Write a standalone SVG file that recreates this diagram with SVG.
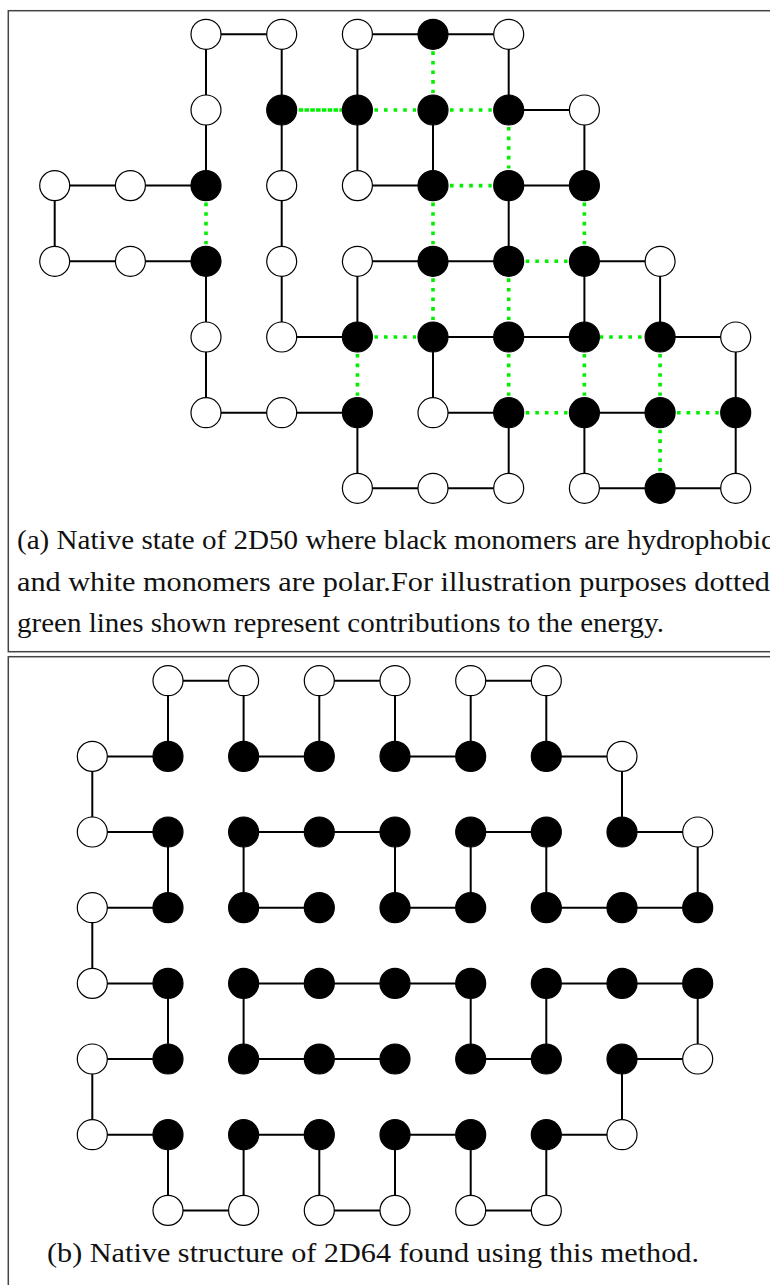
<svg xmlns="http://www.w3.org/2000/svg" width="770" height="1285" viewBox="0 0 770 1285">
<style>
.frame{fill:none;stroke:#444;stroke-width:1.5}
.bond{stroke:#000;stroke-width:2;stroke-linecap:butt}
.hh{stroke:#00f000;stroke-width:3.6;stroke-dasharray:3.6 6}
.hhd{stroke:#00f000;stroke-width:3.6;stroke-dasharray:4.5 1.3}
.w{fill:#fff;stroke:#000;stroke-width:1.2}
.b{fill:#000;stroke:#000;stroke-width:1.2}
.cap{font-family:"Liberation Serif","Times New Roman",serif;font-size:27px;fill:#111}
</style>
<rect class="frame" x="8.3" y="10.7" width="800" height="641"/>
<rect class="frame" x="8.3" y="656.7" width="800" height="700"/>
<g id="connectors">
<g id="bonds-a">
<line class="bond" x1="433" y1="110" x2="433" y2="185.6"/>
<line class="bond" x1="433" y1="185.6" x2="357.4" y2="185.6"/>
<line class="bond" x1="357.4" y1="185.6" x2="357.4" y2="110"/>
<line class="bond" x1="357.4" y1="110" x2="357.4" y2="34.3"/>
<line class="bond" x1="357.4" y1="34.3" x2="433" y2="34.3"/>
<line class="bond" x1="433" y1="34.3" x2="508.7" y2="34.3"/>
<line class="bond" x1="508.7" y1="34.3" x2="508.7" y2="110"/>
<line class="bond" x1="508.7" y1="110" x2="584.4" y2="110"/>
<line class="bond" x1="584.4" y1="110" x2="584.4" y2="185.6"/>
<line class="bond" x1="584.4" y1="185.6" x2="508.7" y2="185.6"/>
<line class="bond" x1="508.7" y1="185.6" x2="508.7" y2="261.3"/>
<line class="bond" x1="508.7" y1="261.3" x2="433" y2="261.3"/>
<line class="bond" x1="433" y1="261.3" x2="357.4" y2="261.3"/>
<line class="bond" x1="357.4" y1="261.3" x2="357.4" y2="337"/>
<line class="bond" x1="357.4" y1="337" x2="281.7" y2="337"/>
<line class="bond" x1="281.7" y1="337" x2="281.7" y2="261.3"/>
<line class="bond" x1="281.7" y1="261.3" x2="281.7" y2="185.6"/>
<line class="bond" x1="281.7" y1="185.6" x2="281.7" y2="110"/>
<line class="bond" x1="281.7" y1="110" x2="281.7" y2="34.3"/>
<line class="bond" x1="281.7" y1="34.3" x2="206" y2="34.3"/>
<line class="bond" x1="206" y1="34.3" x2="206" y2="110"/>
<line class="bond" x1="206" y1="110" x2="206" y2="185.6"/>
<line class="bond" x1="206" y1="185.6" x2="130.4" y2="185.6"/>
<line class="bond" x1="130.4" y1="185.6" x2="54.7" y2="185.6"/>
<line class="bond" x1="54.7" y1="185.6" x2="54.7" y2="261.3"/>
<line class="bond" x1="54.7" y1="261.3" x2="130.4" y2="261.3"/>
<line class="bond" x1="130.4" y1="261.3" x2="206" y2="261.3"/>
<line class="bond" x1="206" y1="261.3" x2="206" y2="337"/>
<line class="bond" x1="206" y1="337" x2="206" y2="412.7"/>
<line class="bond" x1="206" y1="412.7" x2="281.7" y2="412.7"/>
<line class="bond" x1="281.7" y1="412.7" x2="357.4" y2="412.7"/>
<line class="bond" x1="357.4" y1="412.7" x2="357.4" y2="488.3"/>
<line class="bond" x1="357.4" y1="488.3" x2="433" y2="488.3"/>
<line class="bond" x1="433" y1="488.3" x2="508.7" y2="488.3"/>
<line class="bond" x1="508.7" y1="488.3" x2="508.7" y2="412.7"/>
<line class="bond" x1="508.7" y1="412.7" x2="433" y2="412.7"/>
<line class="bond" x1="433" y1="412.7" x2="433" y2="337"/>
<line class="bond" x1="433" y1="337" x2="508.7" y2="337"/>
<line class="bond" x1="508.7" y1="337" x2="584.4" y2="337"/>
<line class="bond" x1="584.4" y1="337" x2="584.4" y2="261.3"/>
<line class="bond" x1="584.4" y1="261.3" x2="660.1" y2="261.3"/>
<line class="bond" x1="660.1" y1="261.3" x2="660.1" y2="337"/>
<line class="bond" x1="660.1" y1="337" x2="735.7" y2="337"/>
<line class="bond" x1="735.7" y1="337" x2="735.7" y2="412.7"/>
<line class="bond" x1="735.7" y1="412.7" x2="735.7" y2="488.3"/>
<line class="bond" x1="735.7" y1="488.3" x2="660.1" y2="488.3"/>
<line class="bond" x1="660.1" y1="488.3" x2="584.4" y2="488.3"/>
<line class="bond" x1="584.4" y1="488.3" x2="584.4" y2="412.7"/>
<line class="bond" x1="584.4" y1="412.7" x2="660.1" y2="412.7"/>
</g>
<g id="contacts-a">
<line class="hhd" x1="298.7" y1="110" x2="343" y2="110"/>
<line class="hh" x1="374.4" y1="110" x2="416" y2="110"/>
<line class="hh" x1="450" y1="110" x2="491.7" y2="110"/>
<line class="hh" x1="450" y1="185.6" x2="491.7" y2="185.6"/>
<line class="hh" x1="525.7" y1="261.3" x2="567.4" y2="261.3"/>
<line class="hh" x1="374.4" y1="337" x2="416" y2="337"/>
<line class="hh" x1="590" y1="337" x2="643" y2="337"/>
<line class="hh" x1="525.7" y1="412.7" x2="567.4" y2="412.7"/>
<line class="hh" x1="677" y1="412.7" x2="718.7" y2="412.7"/>
<line class="hh" x1="433" y1="51.3" x2="433" y2="93"/>
<line class="hh" x1="508.7" y1="127" x2="508.7" y2="168.6"/>
<line class="hh" x1="206" y1="202.6" x2="206" y2="244.3"/>
<line class="hh" x1="433" y1="202.6" x2="433" y2="244.3"/>
<line class="hh" x1="584.4" y1="202.6" x2="584.4" y2="244.3"/>
<line class="hh" x1="433" y1="278.3" x2="433" y2="320"/>
<line class="hh" x1="508.7" y1="278.3" x2="508.7" y2="320"/>
<line class="hh" x1="357.4" y1="354" x2="357.4" y2="395.7"/>
<line class="hh" x1="508.7" y1="354" x2="508.7" y2="395.7"/>
<line class="hh" x1="584.4" y1="354" x2="584.4" y2="395.7"/>
<line class="hh" x1="660.1" y1="354" x2="660.1" y2="395.7"/>
<line class="hh" x1="660.1" y1="429.7" x2="660.1" y2="471.3"/>
</g>
<g id="bonds-b">
<line class="bond" x1="319.3" y1="907.7" x2="243.6" y2="907.7"/>
<line class="bond" x1="243.6" y1="907.7" x2="243.6" y2="832"/>
<line class="bond" x1="243.6" y1="832" x2="319.3" y2="832"/>
<line class="bond" x1="319.3" y1="832" x2="395" y2="832"/>
<line class="bond" x1="395" y1="832" x2="395" y2="907.7"/>
<line class="bond" x1="395" y1="907.7" x2="470.7" y2="907.7"/>
<line class="bond" x1="470.7" y1="907.7" x2="470.7" y2="832"/>
<line class="bond" x1="470.7" y1="832" x2="546.3" y2="832"/>
<line class="bond" x1="546.3" y1="832" x2="546.3" y2="907.7"/>
<line class="bond" x1="546.3" y1="907.7" x2="622" y2="907.7"/>
<line class="bond" x1="622" y1="907.7" x2="697.7" y2="907.7"/>
<line class="bond" x1="697.7" y1="907.7" x2="697.7" y2="832"/>
<line class="bond" x1="697.7" y1="832" x2="622" y2="832"/>
<line class="bond" x1="622" y1="832" x2="622" y2="756.4"/>
<line class="bond" x1="622" y1="756.4" x2="546.3" y2="756.4"/>
<line class="bond" x1="546.3" y1="756.4" x2="546.3" y2="680.7"/>
<line class="bond" x1="546.3" y1="680.7" x2="470.7" y2="680.7"/>
<line class="bond" x1="470.7" y1="680.7" x2="470.7" y2="756.4"/>
<line class="bond" x1="470.7" y1="756.4" x2="395" y2="756.4"/>
<line class="bond" x1="395" y1="756.4" x2="395" y2="680.7"/>
<line class="bond" x1="395" y1="680.7" x2="319.3" y2="680.7"/>
<line class="bond" x1="319.3" y1="680.7" x2="319.3" y2="756.4"/>
<line class="bond" x1="319.3" y1="756.4" x2="243.6" y2="756.4"/>
<line class="bond" x1="243.6" y1="756.4" x2="243.6" y2="680.7"/>
<line class="bond" x1="243.6" y1="680.7" x2="168" y2="680.7"/>
<line class="bond" x1="168" y1="680.7" x2="168" y2="756.4"/>
<line class="bond" x1="168" y1="756.4" x2="92.3" y2="756.4"/>
<line class="bond" x1="92.3" y1="756.4" x2="92.3" y2="832"/>
<line class="bond" x1="92.3" y1="832" x2="168" y2="832"/>
<line class="bond" x1="168" y1="832" x2="168" y2="907.7"/>
<line class="bond" x1="168" y1="907.7" x2="92.3" y2="907.7"/>
<line class="bond" x1="92.3" y1="907.7" x2="92.3" y2="983.4"/>
<line class="bond" x1="92.3" y1="983.4" x2="168" y2="983.4"/>
<line class="bond" x1="168" y1="983.4" x2="168" y2="1059"/>
<line class="bond" x1="168" y1="1059" x2="92.3" y2="1059"/>
<line class="bond" x1="92.3" y1="1059" x2="92.3" y2="1134.7"/>
<line class="bond" x1="92.3" y1="1134.7" x2="168" y2="1134.7"/>
<line class="bond" x1="168" y1="1134.7" x2="168" y2="1210.4"/>
<line class="bond" x1="168" y1="1210.4" x2="243.6" y2="1210.4"/>
<line class="bond" x1="243.6" y1="1210.4" x2="243.6" y2="1134.7"/>
<line class="bond" x1="243.6" y1="1134.7" x2="319.3" y2="1134.7"/>
<line class="bond" x1="319.3" y1="1134.7" x2="319.3" y2="1210.4"/>
<line class="bond" x1="319.3" y1="1210.4" x2="395" y2="1210.4"/>
<line class="bond" x1="395" y1="1210.4" x2="395" y2="1134.7"/>
<line class="bond" x1="395" y1="1134.7" x2="470.7" y2="1134.7"/>
<line class="bond" x1="470.7" y1="1134.7" x2="470.7" y2="1210.4"/>
<line class="bond" x1="470.7" y1="1210.4" x2="546.3" y2="1210.4"/>
<line class="bond" x1="546.3" y1="1210.4" x2="546.3" y2="1134.7"/>
<line class="bond" x1="546.3" y1="1134.7" x2="622" y2="1134.7"/>
<line class="bond" x1="622" y1="1134.7" x2="622" y2="1059"/>
<line class="bond" x1="622" y1="1059" x2="697.7" y2="1059"/>
<line class="bond" x1="697.7" y1="1059" x2="697.7" y2="983.4"/>
<line class="bond" x1="697.7" y1="983.4" x2="622" y2="983.4"/>
<line class="bond" x1="622" y1="983.4" x2="546.3" y2="983.4"/>
<line class="bond" x1="546.3" y1="983.4" x2="546.3" y2="1059"/>
<line class="bond" x1="546.3" y1="1059" x2="470.7" y2="1059"/>
<line class="bond" x1="470.7" y1="1059" x2="470.7" y2="983.4"/>
<line class="bond" x1="470.7" y1="983.4" x2="395" y2="983.4"/>
<line class="bond" x1="395" y1="983.4" x2="319.3" y2="983.4"/>
<line class="bond" x1="319.3" y1="983.4" x2="243.6" y2="983.4"/>
<line class="bond" x1="243.6" y1="983.4" x2="243.6" y2="1059"/>
<line class="bond" x1="243.6" y1="1059" x2="319.3" y2="1059"/>
<line class="bond" x1="319.3" y1="1059" x2="395" y2="1059"/>
</g>
</g>
<g id="nodes-a">
<g id="a-2-0"><circle class="w" cx="206" cy="34.3" r="15"/></g>
<g id="a-3-0"><circle class="w" cx="281.7" cy="34.3" r="15"/></g>
<g id="a-4-0"><circle class="w" cx="357.4" cy="34.3" r="15"/></g>
<g id="a-5-0"><circle class="b" cx="433" cy="34.3" r="15"/></g>
<g id="a-6-0"><circle class="w" cx="508.7" cy="34.3" r="15"/></g>
<g id="a-2-1"><circle class="w" cx="206" cy="110" r="15"/></g>
<g id="a-3-1"><circle class="b" cx="281.7" cy="110" r="15"/></g>
<g id="a-4-1"><circle class="b" cx="357.4" cy="110" r="15"/></g>
<g id="a-5-1"><circle class="b" cx="433" cy="110" r="15"/></g>
<g id="a-6-1"><circle class="b" cx="508.7" cy="110" r="15"/></g>
<g id="a-7-1"><circle class="w" cx="584.4" cy="110" r="15"/></g>
<g id="a-0-2"><circle class="w" cx="54.7" cy="185.6" r="15"/></g>
<g id="a-1-2"><circle class="w" cx="130.4" cy="185.6" r="15"/></g>
<g id="a-2-2"><circle class="b" cx="206" cy="185.6" r="15"/></g>
<g id="a-3-2"><circle class="w" cx="281.7" cy="185.6" r="15"/></g>
<g id="a-4-2"><circle class="w" cx="357.4" cy="185.6" r="15"/></g>
<g id="a-5-2"><circle class="b" cx="433" cy="185.6" r="15"/></g>
<g id="a-6-2"><circle class="b" cx="508.7" cy="185.6" r="15"/></g>
<g id="a-7-2"><circle class="b" cx="584.4" cy="185.6" r="15"/></g>
<g id="a-0-3"><circle class="w" cx="54.7" cy="261.3" r="15"/></g>
<g id="a-1-3"><circle class="w" cx="130.4" cy="261.3" r="15"/></g>
<g id="a-2-3"><circle class="b" cx="206" cy="261.3" r="15"/></g>
<g id="a-3-3"><circle class="w" cx="281.7" cy="261.3" r="15"/></g>
<g id="a-4-3"><circle class="w" cx="357.4" cy="261.3" r="15"/></g>
<g id="a-5-3"><circle class="b" cx="433" cy="261.3" r="15"/></g>
<g id="a-6-3"><circle class="b" cx="508.7" cy="261.3" r="15"/></g>
<g id="a-7-3"><circle class="b" cx="584.4" cy="261.3" r="15"/></g>
<g id="a-8-3"><circle class="w" cx="660.1" cy="261.3" r="15"/></g>
<g id="a-2-4"><circle class="w" cx="206" cy="337" r="15"/></g>
<g id="a-3-4"><circle class="w" cx="281.7" cy="337" r="15"/></g>
<g id="a-4-4"><circle class="b" cx="357.4" cy="337" r="15"/></g>
<g id="a-5-4"><circle class="b" cx="433" cy="337" r="15"/></g>
<g id="a-6-4"><circle class="b" cx="508.7" cy="337" r="15"/></g>
<g id="a-7-4"><circle class="b" cx="584.4" cy="337" r="15"/></g>
<g id="a-8-4"><circle class="b" cx="660.1" cy="337" r="15"/></g>
<g id="a-9-4"><circle class="w" cx="735.7" cy="337" r="15"/></g>
<g id="a-2-5"><circle class="w" cx="206" cy="412.7" r="15"/></g>
<g id="a-3-5"><circle class="w" cx="281.7" cy="412.7" r="15"/></g>
<g id="a-4-5"><circle class="b" cx="357.4" cy="412.7" r="15"/></g>
<g id="a-5-5"><circle class="w" cx="433" cy="412.7" r="15"/></g>
<g id="a-6-5"><circle class="b" cx="508.7" cy="412.7" r="15"/></g>
<g id="a-7-5"><circle class="b" cx="584.4" cy="412.7" r="15"/></g>
<g id="a-8-5"><circle class="b" cx="660.1" cy="412.7" r="15"/></g>
<g id="a-9-5"><circle class="b" cx="735.7" cy="412.7" r="15"/></g>
<g id="a-4-6"><circle class="w" cx="357.4" cy="488.3" r="15"/></g>
<g id="a-5-6"><circle class="w" cx="433" cy="488.3" r="15"/></g>
<g id="a-6-6"><circle class="w" cx="508.7" cy="488.3" r="15"/></g>
<g id="a-7-6"><circle class="w" cx="584.4" cy="488.3" r="15"/></g>
<g id="a-8-6"><circle class="b" cx="660.1" cy="488.3" r="15"/></g>
<g id="a-9-6"><circle class="w" cx="735.7" cy="488.3" r="15"/></g>
</g>
<g id="nodes-b">
<g id="b-1-0"><circle class="w" cx="168" cy="680.7" r="15"/></g>
<g id="b-2-0"><circle class="w" cx="243.6" cy="680.7" r="15"/></g>
<g id="b-3-0"><circle class="w" cx="319.3" cy="680.7" r="15"/></g>
<g id="b-4-0"><circle class="w" cx="395" cy="680.7" r="15"/></g>
<g id="b-5-0"><circle class="w" cx="470.7" cy="680.7" r="15"/></g>
<g id="b-6-0"><circle class="w" cx="546.3" cy="680.7" r="15"/></g>
<g id="b-0-1"><circle class="w" cx="92.3" cy="756.4" r="15"/></g>
<g id="b-1-1"><circle class="b" cx="168" cy="756.4" r="15"/></g>
<g id="b-2-1"><circle class="b" cx="243.6" cy="756.4" r="15"/></g>
<g id="b-3-1"><circle class="b" cx="319.3" cy="756.4" r="15"/></g>
<g id="b-4-1"><circle class="b" cx="395" cy="756.4" r="15"/></g>
<g id="b-5-1"><circle class="b" cx="470.7" cy="756.4" r="15"/></g>
<g id="b-6-1"><circle class="b" cx="546.3" cy="756.4" r="15"/></g>
<g id="b-7-1"><circle class="w" cx="622" cy="756.4" r="15"/></g>
<g id="b-0-2"><circle class="w" cx="92.3" cy="832" r="15"/></g>
<g id="b-1-2"><circle class="b" cx="168" cy="832" r="15"/></g>
<g id="b-2-2"><circle class="b" cx="243.6" cy="832" r="15"/></g>
<g id="b-3-2"><circle class="b" cx="319.3" cy="832" r="15"/></g>
<g id="b-4-2"><circle class="b" cx="395" cy="832" r="15"/></g>
<g id="b-5-2"><circle class="b" cx="470.7" cy="832" r="15"/></g>
<g id="b-6-2"><circle class="b" cx="546.3" cy="832" r="15"/></g>
<g id="b-7-2"><circle class="b" cx="622" cy="832" r="15"/></g>
<g id="b-8-2"><circle class="w" cx="697.7" cy="832" r="15"/></g>
<g id="b-0-3"><circle class="w" cx="92.3" cy="907.7" r="15"/></g>
<g id="b-1-3"><circle class="b" cx="168" cy="907.7" r="15"/></g>
<g id="b-2-3"><circle class="b" cx="243.6" cy="907.7" r="15"/></g>
<g id="b-3-3"><circle class="b" cx="319.3" cy="907.7" r="15"/></g>
<g id="b-4-3"><circle class="b" cx="395" cy="907.7" r="15"/></g>
<g id="b-5-3"><circle class="b" cx="470.7" cy="907.7" r="15"/></g>
<g id="b-6-3"><circle class="b" cx="546.3" cy="907.7" r="15"/></g>
<g id="b-7-3"><circle class="b" cx="622" cy="907.7" r="15"/></g>
<g id="b-8-3"><circle class="b" cx="697.7" cy="907.7" r="15"/></g>
<g id="b-0-4"><circle class="w" cx="92.3" cy="983.4" r="15"/></g>
<g id="b-1-4"><circle class="b" cx="168" cy="983.4" r="15"/></g>
<g id="b-2-4"><circle class="b" cx="243.6" cy="983.4" r="15"/></g>
<g id="b-3-4"><circle class="b" cx="319.3" cy="983.4" r="15"/></g>
<g id="b-4-4"><circle class="b" cx="395" cy="983.4" r="15"/></g>
<g id="b-5-4"><circle class="b" cx="470.7" cy="983.4" r="15"/></g>
<g id="b-6-4"><circle class="b" cx="546.3" cy="983.4" r="15"/></g>
<g id="b-7-4"><circle class="b" cx="622" cy="983.4" r="15"/></g>
<g id="b-8-4"><circle class="b" cx="697.7" cy="983.4" r="15"/></g>
<g id="b-0-5"><circle class="w" cx="92.3" cy="1059" r="15"/></g>
<g id="b-1-5"><circle class="b" cx="168" cy="1059" r="15"/></g>
<g id="b-2-5"><circle class="b" cx="243.6" cy="1059" r="15"/></g>
<g id="b-3-5"><circle class="b" cx="319.3" cy="1059" r="15"/></g>
<g id="b-4-5"><circle class="b" cx="395" cy="1059" r="15"/></g>
<g id="b-5-5"><circle class="b" cx="470.7" cy="1059" r="15"/></g>
<g id="b-6-5"><circle class="b" cx="546.3" cy="1059" r="15"/></g>
<g id="b-7-5"><circle class="b" cx="622" cy="1059" r="15"/></g>
<g id="b-8-5"><circle class="w" cx="697.7" cy="1059" r="15"/></g>
<g id="b-0-6"><circle class="w" cx="92.3" cy="1134.7" r="15"/></g>
<g id="b-1-6"><circle class="b" cx="168" cy="1134.7" r="15"/></g>
<g id="b-2-6"><circle class="b" cx="243.6" cy="1134.7" r="15"/></g>
<g id="b-3-6"><circle class="b" cx="319.3" cy="1134.7" r="15"/></g>
<g id="b-4-6"><circle class="b" cx="395" cy="1134.7" r="15"/></g>
<g id="b-5-6"><circle class="b" cx="470.7" cy="1134.7" r="15"/></g>
<g id="b-6-6"><circle class="b" cx="546.3" cy="1134.7" r="15"/></g>
<g id="b-7-6"><circle class="w" cx="622" cy="1134.7" r="15"/></g>
<g id="b-1-7"><circle class="w" cx="168" cy="1210.4" r="15"/></g>
<g id="b-2-7"><circle class="w" cx="243.6" cy="1210.4" r="15"/></g>
<g id="b-3-7"><circle class="w" cx="319.3" cy="1210.4" r="15"/></g>
<g id="b-4-7"><circle class="w" cx="395" cy="1210.4" r="15"/></g>
<g id="b-5-7"><circle class="w" cx="470.7" cy="1210.4" r="15"/></g>
<g id="b-6-7"><circle class="w" cx="546.3" cy="1210.4" r="15"/></g>
</g>
<g id="captions">
<text class="cap" x="17" y="549" textLength="757" lengthAdjust="spacingAndGlyphs">(a) Native state of 2D50 where black monomers are hydrophobic</text>
<text class="cap" x="17" y="591" textLength="753" lengthAdjust="spacingAndGlyphs">and white monomers are polar.For illustration purposes dotted</text>
<text class="cap" x="17" y="632" textLength="647" lengthAdjust="spacingAndGlyphs">green lines shown represent contributions to the energy.</text>
<text class="cap" x="47" y="1262" textLength="652" lengthAdjust="spacingAndGlyphs">(b) Native structure of 2D64 found using this method.</text>
</g>
</svg>
